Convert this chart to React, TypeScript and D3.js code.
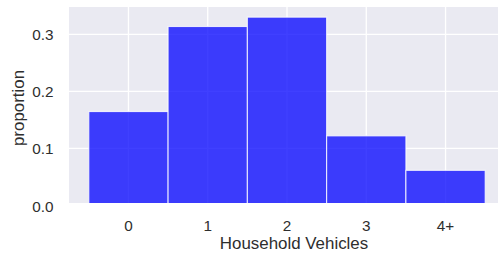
import React from "react";
import * as d3 from "d3";

const categories = ["0", "1", "2", "3", "4+"];
const proportions = [0.1646, 0.3136, 0.330, 0.122, 0.0616];
const yTicks = [0.0, 0.1, 0.2, 0.3];

const W = 498;
const H = 253;
const plotLeft = 69;
const plotTop = 7;
const plotBottom = 203;
const plotRight = 505;

export default function App() {
  const x = d3.scaleLinear().domain([-0.75, 4.75]).range([plotLeft, plotRight]);
  const y = d3.scaleLinear().domain([0, 0.3478]).range([205.5, plotTop]);
  const font = "'Liberation Sans', Arial, sans-serif";
  const textColor = "#2e2e2e";
  return (
    <svg width={W} height={H} style={{ position: "absolute", left: 0, top: 0 }} fontFamily={font}>
      <defs>
        <clipPath id="plotclip">
          <rect x={plotLeft} y={plotTop} width={plotRight - plotLeft} height={plotBottom - plotTop} />
        </clipPath>
      </defs>
      <rect x={0} y={0} width={W} height={H} fill="#ffffff" />
      <rect x={plotLeft} y={plotTop} width={plotRight - plotLeft} height={plotBottom - plotTop} fill="#EAEAF2" />
      <g clipPath="url(#plotclip)">
        {yTicks.map((t) => (
          <line key={"gy" + t} x1={plotLeft} x2={plotRight} y1={y(t)} y2={y(t)} stroke="#ffffff" strokeWidth={1.3} />
        ))}
        {categories.map((c, i) => (
          <line key={"gx" + c} x1={x(i)} x2={x(i)} y1={plotTop} y2={plotBottom} stroke="#ffffff" strokeWidth={1.3} />
        ))}
        {proportions.map((v, i) => (
          <rect
            key={"b" + i}
            x={x(i - 0.5)}
            y={y(v)}
            width={x(i + 0.5) - x(i - 0.5)}
            height={y(0) - y(v)}
            fill="rgb(0,0,255)"
            fillOpacity={0.75}
            stroke="#ffffff"
            strokeOpacity={0.8}
            strokeWidth={1.1}
          />
        ))}
      </g>
      {yTicks.map((t) => (
        <text key={"ty" + t} x={53.5} y={y(t) + 0.5} textAnchor="end" dominantBaseline="central" fontSize={15.3} fill={textColor}>
          {d3.format(".1f")(t)}
        </text>
      ))}
      {categories.map((c, i) => (
        <text key={"tx" + c} x={x(i)} y={231} textAnchor="middle" fontSize={15.3} fill={textColor}>
          {c}
        </text>
      ))}
      <text x={294} y={249} textAnchor="middle" fontSize={16.9} fill={textColor}>
        Household Vehicles
      </text>
      <text transform={`translate(24,108) rotate(-90)`} textAnchor="middle" fontSize={16.9} fill={textColor}>
        proportion
      </text>
    </svg>
  );
}
